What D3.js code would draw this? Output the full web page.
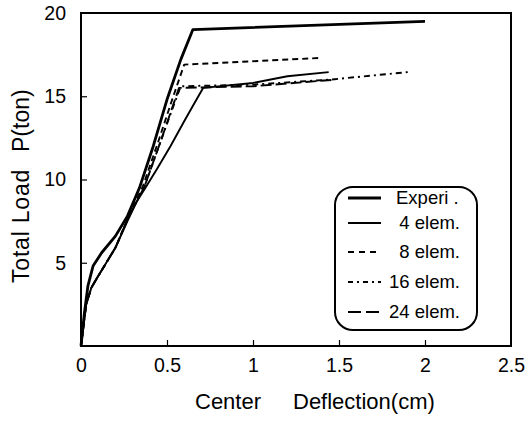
<!DOCTYPE html>
<html>
<head>
<meta charset="utf-8">
<script src="https://cdn.jsdelivr.net/npm/d3@7"></script>
<style>
  body { margin: 0; background: #fff; }
  svg text { font-family: Arial, "Liberation Sans", sans-serif; fill: #000; }
</style>
</head>
<body>
<svg id="chart" width="530" height="424"></svg>
<script>
// data: [deflection cm, load ton]
const experi = [[0,0],[0.02,2],[0.04,3.6],[0.07,4.8],[0.12,5.6],[0.2,6.6],[0.27,7.8],[0.34,9.5],[0.42,12],[0.5,14.8],[0.58,17.2],[0.65,19],[2.0,19.5]];
const elem4 = [[0,0],[0.03,2.5],[0.06,3.5],[0.1,4.2],[0.2,5.9],[0.27,7.5],[0.32,8.6],[0.38,9.6],[0.44,10.6],[0.52,12],[0.6,13.5],[0.66,14.6],[0.71,15.5],[1.0,15.8],[1.2,16.2],[1.44,16.45]];
const elem8 = [[0,0],[0.03,2.5],[0.06,3.5],[0.1,4.2],[0.2,5.9],[0.27,7.6],[0.36,9.6],[0.45,12.3],[0.53,14.8],[0.6,16.9],[1.39,17.3]];
const elem16 = [[0,0],[0.03,2.5],[0.06,3.5],[0.1,4.2],[0.2,5.9],[0.27,7.6],[0.37,9.6],[0.46,12.2],[0.53,14.2],[0.58,15.6],[1.0,15.7],[1.45,16.0],[1.9,16.45]];
const elem24 = [[0,0],[0.03,2.5],[0.06,3.5],[0.1,4.2],[0.2,5.9],[0.27,7.6],[0.37,9.6],[0.46,12.2],[0.53,14.3],[0.57,15.5],[1.0,15.6],[1.48,16.0]];

const xTicks = [0, 0.5, 1, 1.5, 2, 2.5];
const yTicks = [5, 10, 15, 20];

const series = [
  { name: "Experi .", data: experi, width: 2.8, dash: null, key: null },
  { name: "4 elem.", data: elem4, width: 1.9, dash: null, key: null },
  { name: "8 elem.", data: elem8, width: 1.9, dash: "6,4", key: "6,5" },
  { name: "16 elem.", data: elem16, width: 1.9, dash: "6,4,2,4", key: "5,4,2,4" },
  { name: "24 elem.", data: elem24, width: 1.9, dash: "11,4", key: "13,5" }
];

const svg = d3.select("#chart");
const x = d3.scaleLinear().domain([0, 2.5]).range([81, 511]);
const y = d3.scaleLinear().domain([0, 20]).range([346, 13]);

// frame
svg.append("rect")
  .attr("x", x(0)).attr("y", y(20))
  .attr("width", x(2.5) - x(0)).attr("height", y(0) - y(20))
  .attr("fill", "none").attr("stroke", "#000").attr("stroke-width", 2);

// axes with inward ticks
const xAxis = svg.append("g")
  .attr("transform", "translate(0," + y(0) + ")")
  .call(d3.axisBottom(x).tickValues(xTicks).tickSize(-6).tickPadding(12).tickFormat(d3.format("")));
const yAxis = svg.append("g")
  .attr("transform", "translate(" + x(0) + ",0)")
  .call(d3.axisLeft(y).tickValues(yTicks).tickSize(-6).tickPadding(15));

for (let g of [xAxis, yAxis]) {
  g.select(".domain").remove();
  g.selectAll("line").attr("stroke", "#000").attr("stroke-width", 1.2);
  g.selectAll("text").attr("font-size", 19.5).attr("font-family", "Arial, 'Liberation Sans', sans-serif");
}
xAxis.selectAll(".tick").filter(d => d == 0 || d == 2.5).select("line").remove();
yAxis.selectAll(".tick").filter(d => d == 20).select("line").remove();

// curves
const line = d3.line().x(d => x(d[0])).y(d => y(d[1]));
for (let s of series) {
  svg.append("path")
    .datum(s.data)
    .attr("d", line)
    .attr("fill", "none")
    .attr("stroke", "#000")
    .attr("stroke-width", s.width)
    .attr("stroke-dasharray", s.dash)
    .attr("stroke-linejoin", "round");
}

// axis titles
svg.append("text").attr("x", 195).attr("y", 409).attr("font-size", 22).text("Center");
svg.append("text").attr("x", 293).attr("y", 409).attr("font-size", 22).text("Deflection(cm)");
svg.append("text")
  .attr("transform", "translate(29,283) rotate(-90)")
  .attr("font-size", 23).attr("letter-spacing", 0.8).text("Total Load");
svg.append("text")
  .attr("transform", "translate(29,152) rotate(-90)")
  .attr("font-size", 23).text("P(ton)");

// legend
const legend = svg.append("g");
legend.append("rect")
  .attr("x", 335).attr("y", 187).attr("width", 142).attr("height", 143)
  .attr("rx", 18).attr("ry", 18)
  .attr("fill", "#fff").attr("stroke", "#000").attr("stroke-width", 2);
const legendY = [198, 223, 252, 282, 312];
series.forEach((s, i) => {
  legend.append("line")
    .attr("x1", 348).attr("x2", 381)
    .attr("y1", legendY[i]).attr("y2", legendY[i])
    .attr("stroke", "#000")
    .attr("stroke-width", s.width)
    .attr("stroke-dasharray", s.key);
  legend.append("text")
    .attr("x", i == 0 ? 396 : 460).attr("y", legendY[i]).attr("dy", "0.35em")
    .attr("text-anchor", i == 0 ? "start" : "end")
    .attr("font-size", 18.5)
    .text(s.name);
});
</script>
</body>
</html>
